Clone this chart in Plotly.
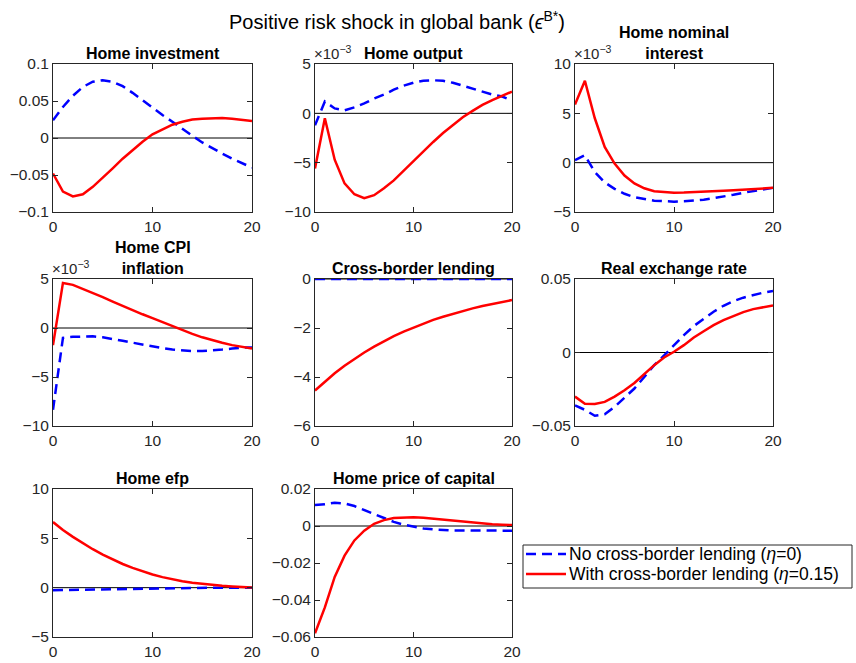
import plotly.graph_objects as go

# ---------------------------------------------------------------- data
periods = list(range(21))

# Home investment
invest_no = [0.024, 0.042, 0.057, 0.069, 0.076, 0.078, 0.076, 0.070, 0.061, 0.051,
             0.040, 0.031, 0.022, 0.012, 0.003, -0.006, -0.014, -0.021, -0.028, -0.034, -0.040]
invest_cb = [-0.048, -0.0725, -0.079, -0.076, -0.066, -0.054, -0.041, -0.028, -0.016, -0.005,
             0.005, 0.012, 0.018, 0.022, 0.025, 0.026, 0.027, 0.027, 0.026, 0.025, 0.023]

# Home output (x 1e-3)
output_no = [-1.2, 1.2, 0.5, 0.3, 0.6, 1.0, 1.5, 1.9, 2.4, 2.8,
             3.1, 3.3, 3.35, 3.3, 3.1, 2.8, 2.5, 2.2, 1.9, 1.7, 1.3]
output_cb = [-5.6, -0.5, -4.7, -7.1, -8.2, -8.6, -8.3, -7.6, -6.8, -5.8,
             -4.8, -3.9, -2.9, -2.0, -1.2, -0.4, 0.25, 0.85, 1.35, 1.8, 2.2]

# Home nominal interest (x 1e-3)
interest_no = [0.25, 0.75, -0.95, -2.0, -2.65, -3.15, -3.5, -3.7, -3.85, -3.9,
               -3.95, -3.9, -3.85, -3.75, -3.6, -3.45, -3.25, -3.05, -2.9, -2.7, -2.55]
interest_cb = [5.9, 8.3, 4.5, 1.6, -0.1, -1.3, -2.1, -2.6, -2.9, -3.0,
               -3.05, -3.03, -3.0, -2.95, -2.9, -2.85, -2.8, -2.72, -2.65, -2.6, -2.55]

# Home CPI inflation (x 1e-3)
cpi_no = [-8.35, -1.0, -0.9, -0.85, -0.85, -0.95, -1.1, -1.3, -1.5, -1.7,
          -1.9, -2.05, -2.2, -2.3, -2.35, -2.35, -2.3, -2.2, -2.1, -2.0, -2.0]
cpi_cb = [-1.75, 4.6, 4.4, 4.0, 3.6, 3.15, 2.7, 2.25, 1.8, 1.4,
          1.0, 0.6, 0.15, -0.25, -0.6, -0.95, -1.25, -1.5, -1.75, -1.95, -2.1]

# Cross-border lending
lending_no = [0.0] * 21
lending_cb = [-4.55, -4.19, -3.85, -3.54, -3.26, -3.00, -2.76, -2.54, -2.33, -2.15,
              -1.98, -1.82, -1.67, -1.54, -1.42, -1.30, -1.20, -1.10, -1.01, -0.93, -0.86]

# Real exchange rate
rer_no = [-0.036, -0.039, -0.043, -0.042, -0.037, -0.031, -0.0245, -0.0166, -0.0086, -0.002,
          0.005, 0.0118, 0.018, 0.023, 0.0277, 0.0318, 0.035, 0.0373, 0.039, 0.0407, 0.0418]
rer_cb = [-0.030, -0.0348, -0.035, -0.0336, -0.030, -0.0257, -0.0207, -0.0148, -0.0086, -0.0034,
          0.0005, 0.005, 0.0102, 0.0145, 0.0186, 0.022, 0.025, 0.0275, 0.0295, 0.031, 0.032]

# Home external finance premium
efp_no = [-0.25, -0.23, -0.21, -0.19, -0.17, -0.15, -0.13, -0.11, -0.09, -0.07,
          -0.06, -0.05, -0.04, -0.03, -0.02, -0.015, -0.01, -0.005, 0.0, 0.0, 0.0]
efp_cb = [6.65, 5.85, 5.15, 4.5, 3.9, 3.35, 2.85, 2.4, 2.0, 1.65,
          1.33, 1.07, 0.85, 0.66, 0.5, 0.38, 0.28, 0.19, 0.12, 0.06, 0.02]

# Home price of capital
qk_no = [0.0114, 0.0117, 0.0126, 0.0122, 0.0108, 0.0087, 0.0063, 0.0042, 0.0022, 0.0007,
         -0.0004, -0.0013, -0.0018, -0.0022, -0.0024, -0.0024, -0.0025, -0.0025, -0.0025, -0.0025, -0.0025]
qk_cb = [-0.058, -0.044, -0.0275, -0.016, -0.0078, -0.0025, 0.0012, 0.0032, 0.0043, 0.0047,
         0.0047, 0.0044, 0.0039, 0.0033, 0.0027, 0.0022, 0.0018, 0.0014, 0.0010, 0.0007, 0.0005]

x_ticks = [0, 10, 20]

panel_titles = ["Home investment", "Home output", "Home nominal<br>interest",
                "Home CPI<br>inflation", "Cross-border lending", "Real exchange rate",
                "Home efp", "Home price of capital"]

series_no = [invest_no, output_no, interest_no, cpi_no, lending_no, rer_no, efp_no, qk_no]
series_cb = [invest_cb, output_cb, interest_cb, cpi_cb, lending_cb, rer_cb, efp_cb, qk_cb]

y_ranges = [(-0.1, 0.1), (-10, 5), (-5, 10), (-10, 5), (-6, 0), (-0.05, 0.05), (-5, 10), (-0.06, 0.02)]
y_tickvals = [[-0.1, -0.05, 0, 0.05, 0.1], [-10, -5, 0, 5], [-5, 0, 5, 10], [-10, -5, 0, 5],
              [-6, -4, -2, 0], [-0.05, 0, 0.05], [-5, 0, 5, 10], [-0.06, -0.04, -0.02, 0, 0.02]]
scaled_1e3 = [False, True, True, True, False, False, False, False]

legend_names = ["No cross-border lending (<i>η</i>=0)",
                "With cross-border lending (<i>η</i>=0.15)"]

# ---------------------------------------------------------------- layout geometry
W, H = 856, 663
COLS = [(53, 252), (315, 512), (575, 773)]
ROWS = [(64, 212), (279, 426), (489, 637)]
LEGEND_BOX = (523, 545, 852, 588)      # left, top, right, bottom (px)
LEGEND_ROWS = [554, 574]               # row centres (px)

FONT = "Liberation Sans, Arial, Helvetica, sans-serif"
AXCOL = "#262626"
BLUE = "#0000ff"
RED = "#ff0000"
DASH = "10px,6px"


def fmt_tick(v):
    s = f"{abs(v):g}"
    return ("\u2212" + s) if v < 0 else s


def px_x(v):
    return v / W


def px_y(v):
    return 1 - v / H


fig = go.Figure()
layout = dict(
    width=W, height=H,
    margin=dict(l=0, r=0, t=0, b=0, autoexpand=False),
    paper_bgcolor="white", plot_bgcolor="white",
    font=dict(family=FONT, size=15, color=AXCOL),
    showlegend=False,
    annotations=[], shapes=[],
)

for i in range(8):
    r, c = divmod(i, 3)
    x0, x1 = COLS[c]
    ytop, ybot = ROWS[r]
    n = i + 1
    xa = f"xaxis{n}" if n > 1 else "xaxis"
    ya = f"yaxis{n}" if n > 1 else "yaxis"
    xr = f"x{n}" if n > 1 else "x"
    yr = f"y{n}" if n > 1 else "y"

    common = dict(showgrid=False, zeroline=False, showline=True, linecolor=AXCOL, linewidth=1,
                  mirror="ticks", ticks="inside", ticklen=5, tickwidth=1, tickcolor=AXCOL,
                  automargin=False, fixedrange=True,
                  tickfont=dict(family=FONT, size=15.5, color=AXCOL))
    layout[xa] = dict(domain=[px_x(x0), px_x(x1)], anchor=yr, range=[0, 20],
                      tickvals=x_ticks, ticktext=[str(t) for t in x_ticks], **common)
    layout[ya] = dict(domain=[px_y(ybot), px_y(ytop)], anchor=xr, range=list(y_ranges[i]),
                      tickvals=y_tickvals[i], ticktext=[fmt_tick(v) for v in y_tickvals[i]], **common)

    # zero reference line
    layout["shapes"].append(dict(type="line", xref=xr, yref=yr, x0=0, x1=20, y0=0, y1=0,
                                 line=dict(color="black", width=1), layer="below"))

    fig.add_trace(go.Scatter(x=periods, y=series_no[i], xaxis=xr, yaxis=yr, mode="lines",
                             line=dict(color=BLUE, width=2.5, dash=DASH),
                             name=legend_names[0], hoverinfo="skip"))
    fig.add_trace(go.Scatter(x=periods, y=series_cb[i], xaxis=xr, yaxis=yr, mode="lines",
                             line=dict(color=RED, width=2.5),
                             name=legend_names[1], hoverinfo="skip"))

    # panel title
    layout["annotations"].append(dict(
        text=f"<b>{panel_titles[i]}</b>", xref="paper", yref="paper",
        x=px_x((x0 + x1) / 2), y=px_y(ytop), xanchor="center", yanchor="bottom",
        yshift=0, showarrow=False, font=dict(family=FONT, size=16, color="black")))

    # exponent marker for scaled axes
    if scaled_1e3[i]:
        layout["annotations"].append(dict(
            text="\u00d710<sup>\u22123</sup>", xref="paper", yref="paper",
            x=px_x(x0), y=px_y(ytop), xanchor="left", yanchor="bottom", yshift=0, xshift=-3,
            showarrow=False, font=dict(family=FONT, size=15, color=AXCOL)))

# figure title
layout["annotations"].append(dict(
    text="Positive risk shock in global bank (<i>\u03f5</i><sup>B*</sup>)",
    xref="paper", yref="paper", x=px_x(397), y=px_y(6), xanchor="center", yanchor="top",
    showarrow=False, font=dict(family=FONT, size=20, color="black")))

# legend box with line samples
lx0, ly0, lx1, ly1 = LEGEND_BOX
layout["shapes"].append(dict(type="rect", xref="paper", yref="paper",
                             x0=px_x(lx0), x1=px_x(lx1), y0=px_y(ly1), y1=px_y(ly0),
                             line=dict(color=AXCOL, width=1), fillcolor="white"))
for name, color, dash, yc in zip(legend_names, [BLUE, RED], [DASH, "solid"], LEGEND_ROWS):
    layout["shapes"].append(dict(type="line", xref="paper", yref="paper",
                                 x0=px_x(lx0 + 3), x1=px_x(lx0 + 43), y0=px_y(yc), y1=px_y(yc),
                                 line=dict(color=color, width=2.5, dash=dash)))
    layout["annotations"].append(dict(
        text=name, xref="paper", yref="paper", x=px_x(lx0 + 44), y=px_y(yc),
        xanchor="left", yanchor="middle", showarrow=False,
        font=dict(family=FONT, size=17.5, color="black")))

fig.update_layout(**layout)
fig.write_html("out.html")
